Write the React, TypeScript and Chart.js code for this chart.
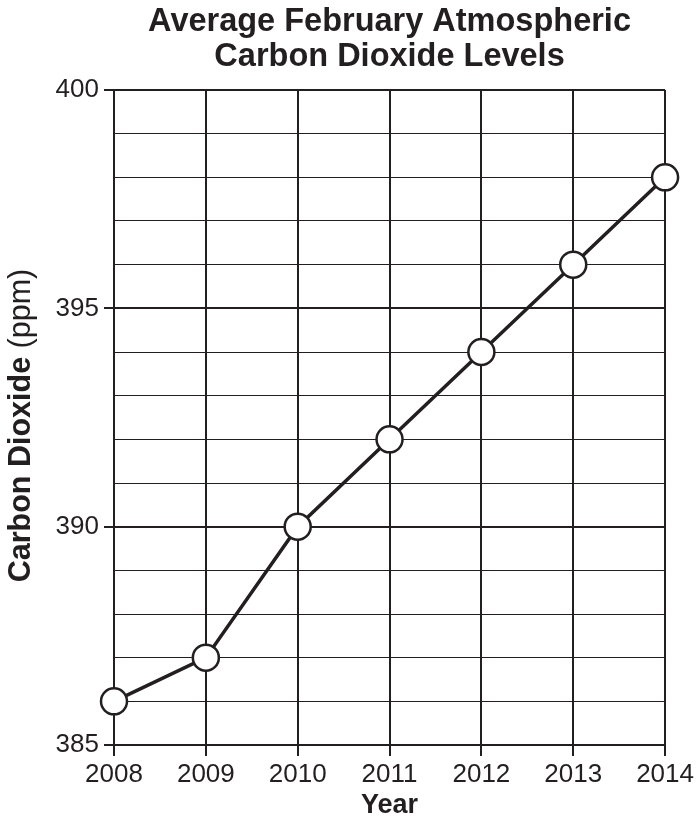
import React, { useEffect, useRef } from "react";
import { Chart, registerables } from "chart.js";

Chart.register(...registerables);

const years = ["2008", "2009", "2010", "2011", "2012", "2013", "2014"];
const co2Values = [386, 387, 390, 392, 394, 396, 398];
const titleLines = ["Average February Atmospheric", "Carbon Dioxide Levels"];
const yTitleBold = "Carbon Dioxide";
const yTitleNormal = " (ppm)";
const xTitle = "Year";
const yMin = 385;
const yMax = 400;

const INK = "#231f20";
const FONT = "'Liberation Sans', Arial, Helvetica, sans-serif";

const yTitlePlugin = {
  id: "yTitlePlugin",
  afterDraw(chart: any) {
    const ctx = chart.ctx;
    const area = chart.chartArea;
    ctx.save();
    ctx.translate(22, (area.top + area.bottom) / 2 + 8);
    ctx.rotate(-Math.PI / 2);
    ctx.fillStyle = INK;
    ctx.textBaseline = "middle";
    ctx.textAlign = "left";
    const boldFont = `bold 30.5px ${FONT}`;
    const normFont = `30.5px ${FONT}`;
    ctx.font = boldFont;
    const wb = ctx.measureText(yTitleBold).width;
    ctx.font = normFont;
    const wn = ctx.measureText(yTitleNormal).width;
    const start = -(wb + wn) / 2;
    ctx.font = boldFont;
    ctx.fillText(yTitleBold, start, 0);
    ctx.font = normFont;
    ctx.fillText(yTitleNormal, start + wb, 0);
    ctx.restore();
  },
};

export default function App() {
  const ref = useRef<HTMLCanvasElement | null>(null);

  useEffect(() => {
    if (!ref.current) return;
    const chart = new Chart(ref.current, {
      type: "line",
      data: {
        labels: years,
        datasets: [
          {
            data: co2Values,
            borderColor: INK,
            borderWidth: 3.5,
            pointRadius: 13,
            pointBorderWidth: 2.5,
            pointBackgroundColor: "#ffffff",
            pointBorderColor: INK,
            tension: 0,
            clip: false as any,
          },
        ],
      },
      options: {
        responsive: false,
        animation: false,
        events: [],
        layout: { padding: { top: 0, left: 0, right: 31, bottom: 0 } },
        plugins: {
          legend: { display: false },
          tooltip: { enabled: false },
          title: {
            display: true,
            text: titleLines,
            fullSize: false,
            color: INK,
            font: { family: FONT, size: 32.5, weight: "bold", lineHeight: 35 / 32.5 },
            padding: { top: 5, bottom: 15 },
          },
        },
        scales: {
          x: {
            type: "category",
            offset: false,
            afterFit: (s: any) => {
              s.height = 77;
            },
            border: { display: true, color: INK, width: 2 },
            grid: {
              color: INK,
              lineWidth: 2,
              tickLength: 11,
              tickColor: INK,
              tickWidth: 2,
            },
            ticks: {
              color: INK,
              font: { family: FONT, size: 26 },
              padding: 3,
              maxRotation: 0,
              autoSkip: false,
            },
            title: {
              display: true,
              text: xTitle,
              color: INK,
              font: { family: FONT, size: 27, weight: "bold", lineHeight: 1.2 },
              padding: { top: 0, bottom: 0 },
            },
          },
          y: {
            min: yMin,
            max: yMax,
            afterFit: (s: any) => {
              s.width = 114;
            },
            border: { display: true, color: INK, width: 2 },
            grid: {
              color: INK,
              lineWidth: (c: any) => (c.tick && c.tick.value % 5 === 0 ? 2 : 1),
              tickLength: 10,
              tickWidth: 2,
              tickColor: (c: any) =>
                c.tick && c.tick.value % 5 === 0 ? INK : "rgba(0,0,0,0)",
            },
            ticks: {
              stepSize: 1,
              autoSkip: false,
              color: INK,
              padding: 5,
              font: { family: FONT, size: 26 },
              callback: (v: any) => (Number(v) % 5 === 0 ? String(v) : ""),
            },
          },
        },
      },
      plugins: [yTitlePlugin],
    });
    return () => chart.destroy();
  }, []);

  return (
    <div style={{ position: "absolute", left: 0, top: 0, width: 697, height: 822, background: "#fff" }}>
      <canvas ref={ref} width={697} height={822} style={{ display: "block" }} />
    </div>
  );
}
